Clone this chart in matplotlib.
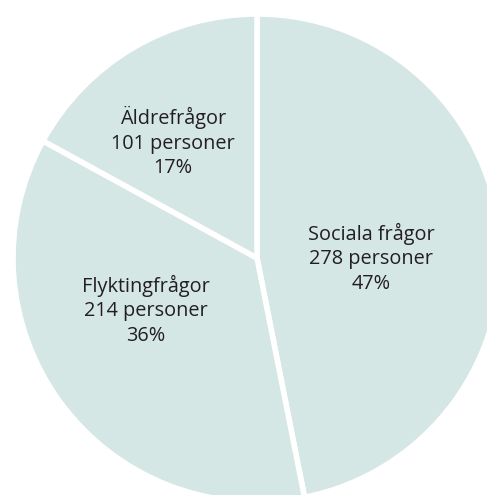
import matplotlib
matplotlib.use('Agg')
import matplotlib.pyplot as plt

# Antal personer per fråga
categories = ['Sociala frågor', 'Flyktingfrågor', 'Äldrefrågor']
counts = [278, 214, 101]

fill = '#d5e7e5'
text_color = '#231f20'

fig = plt.figure(figsize=(4.87, 4.95), dpi=100)
# pie center at (257, 258) px from top-left, radius 244 px
W, H = 487, 495
cx, cy, r = 257, 258, 244
ax = fig.add_axes([(cx - r) / W, (H - cy - r) / H, 2 * r / W, 2 * r / H])

wedges, _ = ax.pie(counts, startangle=90, counterclock=False,
                   colors=[fill] * len(counts),
                   wedgeprops=dict(edgecolor='white', linewidth=4))
ax.set_xlim(-1, 1)
ax.set_ylim(-1, 1)
ax.set_aspect('equal')
ax.axis('off')

total = sum(counts)
# label centres in pie radius units
label_pos = [(0.467, 0.0), (-0.455, -0.213), (-0.344, 0.475)]
for name, n, (x, y) in zip(categories, counts, label_pos):
    pct = round(100 * n / total)
    ax.text(x, y, f'{name}\n{n} personer\n{pct}%', ha='center', va='center',
            fontsize=14.3, color=text_color, family='Open Sans', linespacing=1.3)

fig.savefig('out.png', dpi=100)
